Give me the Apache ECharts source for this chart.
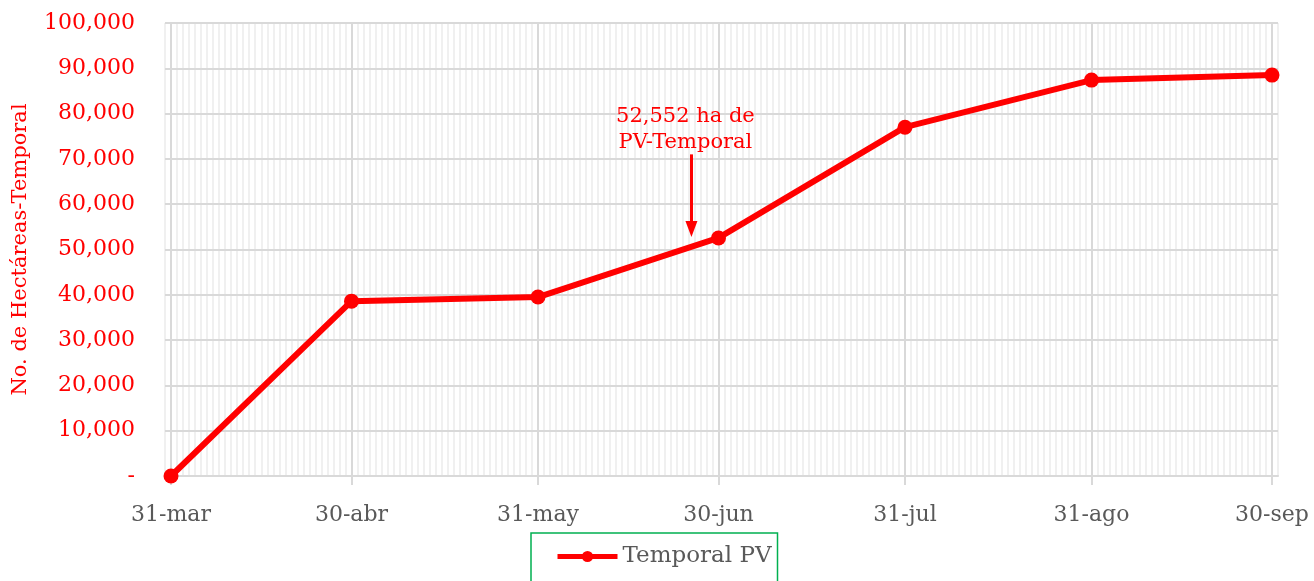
<!DOCTYPE html>
<html>
<head>
<meta charset="utf-8">
<script src="https://cdn.jsdelivr.net/npm/echarts@6/dist/echarts.min.js"></script>
<style>
  html, body { margin: 0; padding: 0; background: #fff; }
  #chart { width: 1314px; height: 581px; }
</style>
</head>
<body>
<div id="chart"></div>
<script>
// fechas de corte (etiquetas del eje x) y su día desde el 31-mar
const categories = ['31-mar', '30-abr', '31-may', '30-jun', '31-jul', '31-ago', '30-sep'];
const dayOffsets = [0, 30, 61, 91, 122, 153, 183];
// hectáreas acumuladas
const temporalPV = [0, 38600, 39500, 52552, 77000, 87400, 88500];
const yTicks = [0, 10000, 20000, 30000, 40000, 50000, 60000, 70000, 80000, 90000, 100000];

const FONT = '"DejaVu Serif", "Liberation Serif", serif';
const RED = '#ff0000';
const GRAY_TXT = '#595959';

const chart = echarts.init(document.getElementById('chart'));

const points = dayOffsets.map((d, i) => [d, temporalPV[i]]);

const option = {
  animation: false,
  grid: { left: 165, right: 36, top: 23, bottom: 105, containLabel: false, outerBoundsMode: 'none' },
  xAxis: [
    {
      // eje principal: fin de mes
      type: 'value',
      min: -1,
      max: 184,
      axisLine: { show: true, lineStyle: { color: '#d9d9d9', width: 2 } },
      axisTick: {
        show: true,
        customValues: dayOffsets,
        length: 9,
        lineStyle: { color: '#d9d9d9', width: 2 },
      },
      axisLabel: {
        customValues: dayOffsets,
        formatter: (v) => categories[dayOffsets.indexOf(v)] || '',
        color: GRAY_TXT,
        fontFamily: FONT,
        fontSize: 22,
        margin: 28,
      },
      splitLine: { show: true, lineStyle: { color: '#d9d9d9', width: 2 } },
      z: 2,
    },
    {
      // eje auxiliar: líneas diarias
      type: 'value',
      position: 'bottom',
      min: -1,
      max: 184,
      interval: 1,
      axisLine: { show: false },
      axisTick: { show: false },
      axisLabel: { show: false },
      splitLine: { show: true, lineStyle: { color: '#f0f0f0', width: 2 } },
      z: 1,
    },
  ],
  yAxis: {
    type: 'value',
    min: yTicks[0],
    max: yTicks[yTicks.length - 1],
    interval: 10000,
    name: 'No. de Hectáreas-Temporal',
    nameLocation: 'middle',
    nameGap: 134,
    nameTextStyle: { color: RED, fontFamily: FONT, fontSize: 21 },
    axisLine: { show: false },
    axisTick: { show: false },
    axisLabel: {
      color: RED,
      fontFamily: FONT,
      fontSize: 22,
      margin: 30,
      formatter: (v) => (v === 0 ? '-' : v.toLocaleString('en-US')),
    },
    splitLine: { show: true, lineStyle: { color: '#d9d9d9', width: 2 } },
    z: 3,
  },
  legend: {
    show: true,
    data: ['Temporal PV'],
    left: 531,
    top: 533,
    padding: [12, 6, 30, 24],
    borderColor: '#00b050',
    borderWidth: 1.5,
    itemWidth: 60,
    itemHeight: 14,
    itemGap: 4,
    lineStyle: { width: 5 },
    textStyle: { color: GRAY_TXT, fontFamily: FONT, fontSize: 23 },
  },
  series: [
    {
      name: 'Temporal PV',
      type: 'line',
      data: points,
      symbol: 'circle',
      symbolSize: 15,
      itemStyle: { color: RED },
      lineStyle: { color: RED, width: 6 },
      z: 5,
    },
    {
      // anotación con flecha
      name: 'nota',
      type: 'line',
      data: [],
      markLine: {
        silent: true,
        symbol: ['none', 'triangle'],
        symbolSize: [12, 16],
        symbolRotate: 180,
        lineStyle: { color: RED, width: 3, type: 'solid' },
        label: { show: false },
        data: [[{ coord: [86.5, 71000] }, { coord: [86.5, 54500] }]],
      },
      markPoint: {
        silent: true,
        symbolSize: 0,
        label: {
          show: true,
          color: RED,
          fontFamily: FONT,
          fontSize: 21,
          lineHeight: 26,
          align: 'center',
          formatter: '52,552 ha de\nPV-Temporal',
        },
        data: [{ coord: [85.5, 76500] }],
      },
    },
  ],
};

chart.setOption(option);
window.addEventListener('resize', () => chart.resize());
</script>
</body>
</html>
